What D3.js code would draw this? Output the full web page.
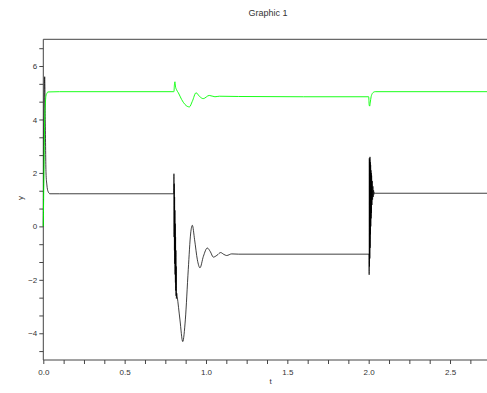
<!DOCTYPE html>
<html><head><meta charset="utf-8">
<script src="https://cdn.jsdelivr.net/npm/d3@7"></script>
<style>
html,body{margin:0;padding:0;background:#fff;}
svg{display:block;font-family:"Liberation Sans",Arial,sans-serif;}
</style></head>
<body>
<svg id="chart" width="487" height="393"></svg>
<script>
const title = "Graphic 1";
const xLabel = "t";
const yLabel = "y";
const xDomain = [0, 2.75];
const yDomain = [-5, 7];
const xTickLabels = [0.0, 0.5, 1.0, 1.5, 2.0, 2.5];
const xMinorStep = 0.125;
const yTickLabels = [-4, -2, 0, 2, 4, 6];
const yMinorStep = 2/3;

// black series (t, y)
const blackT = [0, 0.003, 0.006, 0.0086, 0.012, 0.0166, 0.022, 0.029, 0.041, 0.1,
  0.8, 0.802, 0.803, 0.804, 0.805, 0.806, 0.807, 0.808, 0.809, 0.810, 0.811, 0.812, 0.813, 0.814, 0.815, 0.816, 0.817, 0.818, 0.820, 0.823,
  0.84, 0.857, 0.873, 0.891, 0.906, 0.916, 0.93, 0.947, 0.963, 0.984, 1.008, 1.027, 1.045, 1.068, 1.09, 1.11, 1.127, 1.158, 1.2,
  2.0, 2.002, 2.003, 2.004, 2.005, 2.006, 2.007, 2.008, 2.009, 2.010, 2.011, 2.012, 2.013, 2.014, 2.015, 2.016, 2.017, 2.018, 2.020, 2.022, 2.024, 2.026, 2.028, 2.030, 2.033, 2.036, 2.040, 2.75];
const blackY = [0, 3.0, 5.0, 5.6, 4.0, 2.0, 1.55, 1.31, 1.22, 1.22,
  1.22, 1.22, 1.97, -0.4, 1.6, -0.9, 1.1, -1.4, 0.6, -1.8, 0.1, -2.1, -0.4, -2.4, -0.9, -2.6, -1.5, -2.7, -2.5, -2.62,
  -3.5, -4.31, -3.5, -1.62, -0.25, 0.04, -0.5, -1.25, -1.55, -1.12, -0.81, -0.95, -1.15, -1.08, -0.98, -1.05, -1.09, -1.03, -1.04,
  -1.04, -1.04, -1.81, 2.55, -1.5, 2.5, -1.2, 2.6, -0.8, 2.4, -0.3, 2.3, 0.0, 2.1, 0.3, 2.0, 0.5, 1.9, 0.8, 1.7, 1.0, 1.5, 1.1, 1.35, 1.2, 1.26, 1.24, 1.24];

// green series (t, y)
const greenT = [0, 0.004, 0.008, 0.012, 0.016, 0.022, 0.028, 0.1,
  0.8, 0.803, 0.806, 0.809, 0.812, 0.82, 0.83, 0.85, 0.871, 0.898, 0.916, 0.939, 0.959, 0.983, 1.02, 1.055, 1.082, 1.2, 1.6,
  2.0, 2.003, 2.006, 2.01, 2.015, 2.022, 2.03, 2.04, 2.75];
const greenY = [0, 2.0, 3.87, 4.5, 4.87, 4.98, 5.03, 5.04,
  5.04, 5.04, 5.3, 5.41, 5.25, 5.1, 5.0, 4.75, 4.56, 4.47, 4.68, 5.0, 4.87, 4.78, 4.9, 4.85, 4.87, 4.86, 4.85,
  4.85, 4.55, 4.5, 4.65, 4.85, 4.97, 5.02, 5.04, 5.04];

const svg = d3.select("#chart");
const mLeft = 43.3, mRight = 490.7, mTop = 39.3, mBottom = 360;
const x = d3.scaleLinear().domain(xDomain).range([mLeft, mRight]);
const y = d3.scaleLinear().domain(yDomain).range([mBottom, mTop]);
const axisColor = "#444";
const textColor = "#333";

svg.append("text").attr("x", 268).attr("y", 16).attr("text-anchor", "middle")
  .attr("font-size", 9).attr("fill", textColor).text(title);

svg.append("line").attr("x1", mLeft).attr("x2", mRight).attr("y1", mTop).attr("y2", mTop)
  .attr("stroke", axisColor).attr("stroke-width", 1);

const xMinor = d3.range(0, xDomain[1] + 1e-9, xMinorStep);
const yMinor = d3.range(yTickLabels[0] - yMinorStep, yDomain[1], yMinorStep).filter(v => v >= yDomain[0] && v <= yDomain[1]);

const xAxis = d3.axisBottom(x).tickValues(xMinor).tickSize(4).tickSizeOuter(0)
  .tickFormat(d => xTickLabels.some(v => Math.abs(v - d) < 1e-9) ? d3.format(".1f")(d) : "");
const gx = svg.append("g").attr("transform", `translate(0,${mBottom})`).call(xAxis);
const yAxis = d3.axisLeft(y).tickValues(yMinor).tickSize(4).tickSizeOuter(0)
  .tickFormat(d => yTickLabels.some(v => Math.abs(v - d) < 1e-6) ? d3.format("d")(Math.round(d)) : "");
const gy = svg.append("g").attr("transform", `translate(${mLeft},0)`).call(yAxis);
[gx, gy].forEach(g => {
  g.select(".domain").attr("stroke", axisColor);
  g.selectAll(".tick line").attr("stroke", axisColor);
  g.selectAll(".tick text").attr("fill", textColor).attr("font-size", 8)
    .attr("font-family", "Liberation Sans, Arial, sans-serif");
});
gx.selectAll(".tick text").attr("dy", "0.71em").attr("y", 9);
gy.selectAll(".tick text").attr("x", -6);
gy.select(".domain").attr("d", `M0,${mTop}V${mBottom}`);
gx.select(".domain").attr("d", `M${mLeft},0H${mRight}`);

svg.append("text").attr("x", 270.5).attr("y", 384).attr("text-anchor", "middle")
  .attr("font-size", 8).attr("fill", textColor).text(xLabel);
svg.append("text").attr("transform", "translate(23,198) rotate(-90)").attr("text-anchor", "middle")
  .attr("font-size", 8).attr("fill", textColor).text(yLabel);

const line = d3.line().x(d => x(d[0])).y(d => y(d[1])).curve(d3.curveMonotoneX);
const blackData = blackT.map((t, i) => [t, blackY[i]]);
const greenData = greenT.map((t, i) => [t, greenY[i]]);

svg.append("path").datum(blackData).attr("d", line).attr("fill", "none")
  .attr("stroke", "#000").attr("stroke-width", 0.75);
svg.append("path").datum(greenData).attr("d", line).attr("fill", "none")
  .attr("stroke", "#00ff00").attr("stroke-width", 0.9);
</script>
</body></html>
